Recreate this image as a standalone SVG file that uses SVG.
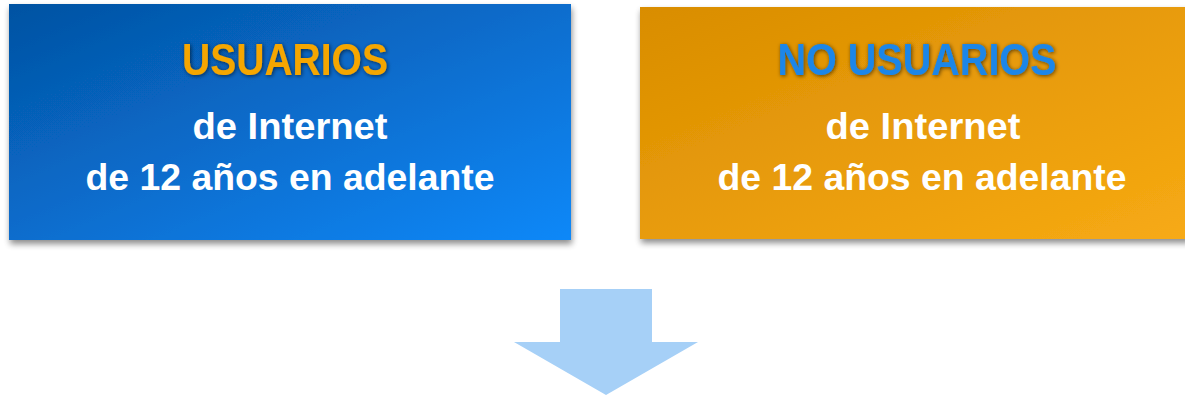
<svg xmlns="http://www.w3.org/2000/svg" width="1185" height="395" viewBox="0 0 1185 395">
<style>
.title{font-family:"Liberation Sans",Arial,sans-serif;font-weight:bold;font-size:44px;text-anchor:middle;filter:url(#glow)}
.sub{font-family:"Liberation Sans",Arial,sans-serif;font-weight:bold;font-size:36px;fill:#ffffff;text-anchor:middle}
</style>
<defs>
<linearGradient id="gBlue" x1="0" y1="0" x2="1" y2="1">
<stop offset="0" stop-color="#0452a2"/>
<stop offset="1" stop-color="#0d88f8"/>
</linearGradient>
<linearGradient id="gOrange" x1="0" y1="0" x2="1" y2="1">
<stop offset="0" stop-color="#d98d00"/>
<stop offset="1" stop-color="#f7aa14"/>
</linearGradient>
<filter id="shadow" x="-5%" y="-5%" width="110%" height="115%">
<feGaussianBlur in="SourceAlpha" stdDeviation="3"/>
<feOffset dx="1" dy="4"/>
<feComponentTransfer><feFuncA type="linear" slope="0.45"/></feComponentTransfer>
<feMerge><feMergeNode/><feMergeNode in="SourceGraphic"/></feMerge>
</filter>
<filter id="glow" x="-10%" y="-20%" width="120%" height="140%">
<feGaussianBlur in="SourceAlpha" stdDeviation="2"/>
<feOffset dx="1" dy="1"/>
<feComponentTransfer><feFuncA type="linear" slope="0.6"/></feComponentTransfer>
<feMerge><feMergeNode/><feMergeNode in="SourceGraphic"/></feMerge>
</filter>
</defs>
<g id="usuarios">
<rect x="9" y="4" width="562" height="236" fill="url(#gBlue)" filter="url(#shadow)"/>
<text class="title" x="285" y="75" fill="#f5a600" textLength="206" lengthAdjust="spacingAndGlyphs">USUARIOS</text>
<text class="sub" x="290" y="139" textLength="195" lengthAdjust="spacingAndGlyphs">de Internet</text>
<text class="sub" x="290" y="190" textLength="409" lengthAdjust="spacingAndGlyphs">de 12 años en adelante</text>
</g>
<g id="no-usuarios">
<rect x="640" y="7" width="550" height="232" fill="url(#gOrange)" filter="url(#shadow)"/>
<text class="title" x="917" y="75" fill="#1b86e8" textLength="279" lengthAdjust="spacingAndGlyphs">NO USUARIOS</text>
<text class="sub" x="923" y="139" textLength="195" lengthAdjust="spacingAndGlyphs">de Internet</text>
<text class="sub" x="922" y="190" textLength="409" lengthAdjust="spacingAndGlyphs">de 12 años en adelante</text>
</g>
<g id="connectors">
<polygon points="560,289 652,289 652,342 698,342 606,395 514,342 560,342" fill="#a6d0f7"/>
</g>
</svg>
